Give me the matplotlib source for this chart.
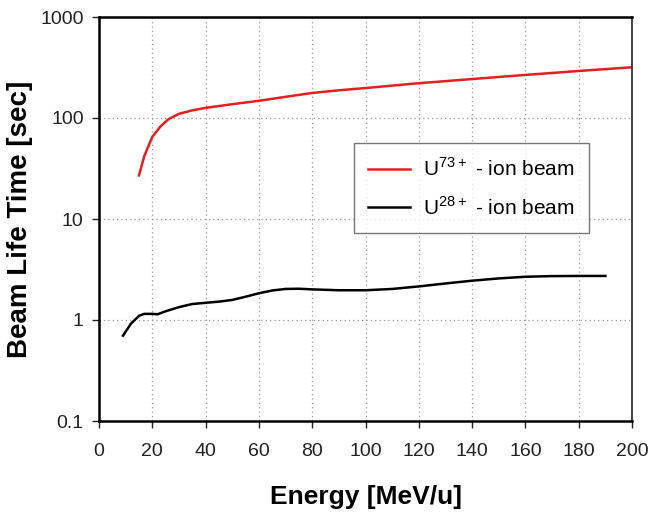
import matplotlib.pyplot as plt
from matplotlib.ticker import FixedLocator, FixedFormatter, NullLocator

plt.rcParams['font.family'] = ['Liberation Sans', 'DejaVu Sans']

# U73+ beam life time
energy_73 = [15, 17, 20, 23, 26, 30, 35, 40, 50, 60, 70, 80, 90, 100,
             120, 140, 160, 180, 200]
life_73 = [27, 42, 65, 82, 97, 110, 119, 126, 137, 148, 162, 177, 188, 198,
           221, 243, 267, 292, 318]

# U28+ beam life time
energy_28 = [9, 12, 15, 17, 20, 22, 25, 30, 35, 40, 45, 50, 55, 60, 65, 70,
             75, 80, 90, 100, 110, 120, 130, 140, 150, 160, 170, 180, 190]
life_28 = [0.70, 0.92, 1.10, 1.15, 1.15, 1.14, 1.22, 1.34, 1.44, 1.48, 1.52,
           1.58, 1.70, 1.84, 1.96, 2.03, 2.04, 2.01, 1.97, 1.97, 2.03, 2.15,
           2.30, 2.45, 2.58, 2.68, 2.72, 2.73, 2.73]

x_ticks = list(range(0, 201, 20))
y_ticks = [0.1, 1, 10, 100, 1000]
y_labels = ['0.1', '1', '10', '100', '1000']

fig = plt.figure(figsize=(6.51, 5.13), dpi=100)
ax = fig.add_axes([99 / 651, 92 / 513, 533 / 651, 404 / 513])

ax.plot(energy_73, life_73, color='#e61e1e', lw=1.8,
        label=r'U$^{\mathregular{73+}}$ - ion beam')
ax.plot(energy_28, life_28, color='black', lw=1.8,
        label=r'U$^{\mathregular{28+}}$ - ion beam')

ax.set_yscale('log')
ax.set_xlim(0, 200)
ax.set_ylim(0.1, 1000)
ax.xaxis.set_major_locator(FixedLocator(x_ticks))
ax.yaxis.set_major_locator(FixedLocator(y_ticks))
ax.yaxis.set_major_formatter(FixedFormatter(y_labels))
ax.yaxis.set_minor_locator(NullLocator())
ax.tick_params(labelsize=14, length=5, width=1, colors='#222222')
ax.tick_params(axis='x', pad=11)
ax.tick_params(axis='y', pad=6)

ax.grid(True, which='major', color='#999999', ls=(0, (1, 2.5)), lw=0.9)

for side in ['left', 'bottom', 'top']:
    ax.spines[side].set_linewidth(1.8)
ax.spines['right'].set_linewidth(1.3)
ax.spines['right'].set_color('#333333')

ax.set_xlabel('Energy [MeV/u]', fontsize=19, fontweight='bold', labelpad=18)
ax.set_ylabel('Beam Life Time [sec]', fontsize=20, fontweight='bold', labelpad=5,
              family=['Liberation Sans Narrow', 'Liberation Sans'])

leg = ax.legend(loc='upper left', bbox_to_anchor=(0.478, 0.688), fontsize=15,
                frameon=True, fancybox=False, edgecolor='#555555',
                handlelength=2.0, handletextpad=0.6, borderpad=0.7,
                labelspacing=0.75, borderaxespad=0)
leg.get_frame().set_linewidth(1.0)

fig.savefig('out.png', dpi=100)
